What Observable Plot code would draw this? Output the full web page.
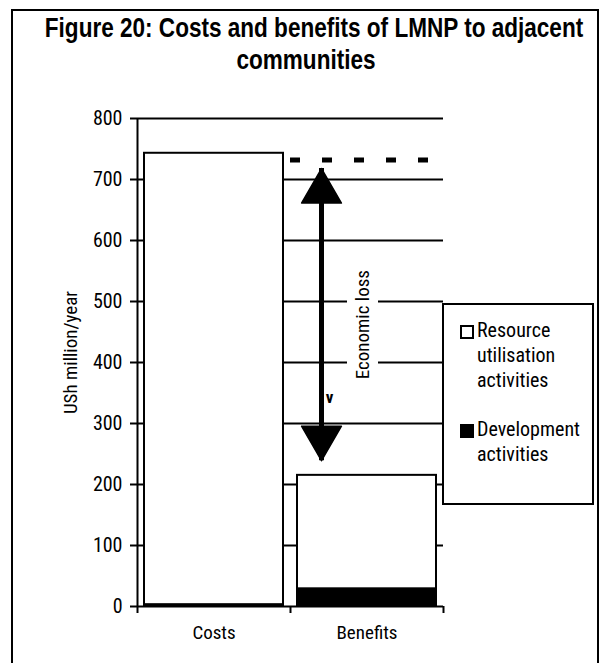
<!DOCTYPE html>
<html>
<head>
<meta charset="utf-8">
<script src="https://cdn.jsdelivr.net/npm/d3@7"></script>
<script src="https://cdn.jsdelivr.net/npm/@observablehq/plot@0.6"></script>
<style>
  html, body { margin: 0; padding: 0; background: #fff; }
  body { width: 611px; height: 663px; position: relative; overflow: hidden;
         font-family: "Roboto Condensed", Roboto, sans-serif; font-stretch: 75%; }
  #frame { position: absolute; left: 11px; top: 9px; width: 584px; height: 700px; border: 2px solid #000; }
  #title { position: absolute; left: 0; top: 12px; width: 611px; height: 70px; }
  #title div { position: absolute; width: 712px; text-align: center;
           font-family: "Liberation Sans", Arial, sans-serif; font-stretch: normal;
           font-weight: bold; font-size: 27.5px; line-height: 32px; color: #000;
           white-space: nowrap; transform: scaleX(0.82); transform-origin: center; }
  #chart { position: absolute; left: 0; top: 0; }
  #legend { position: absolute; left: 442px; top: 303px; width: 148px; height: 198px;
            border: 2px solid #000; background: #fff; font-size: 20px; line-height: 25px; color: #000; }
  .item { position: absolute; left: 16px; }
  .sw { position: absolute; left: 0; top: 7px; width: 10px; height: 10px; border: 2px solid #000; }
  .lab { margin-left: 17px; }
</style>
</head>
<body>
<div id="frame"></div>
<div id="title"><div style="left:-42px;top:0">Figure 20: Costs and benefits of LMNP to adjacent</div><div style="left:-50px;top:32px">communities</div></div>
<div id="chart"></div>
<div id="legend"></div>
<script>
// ---- data ----
const categories = ["Costs", "Benefits"];
const seriesNames = ["Resource utilisation activities", "Development activities"];
const seriesColors = ["#ffffff", "#000000"];
const resourceValues = [740, 186];
const developmentValues = [3, 29];
const yTicks = [0, 100, 200, 300, 400, 500, 600, 700, 800];
const yLabel = "USh million/year";
const referenceLine = [{category: "Benefits", value: 732}];
const lossArrow = [{category: "Benefits", from: 239, to: 718}];
const lossLabel = [{category: "Benefits", value: 462, text: "Economic loss"}];
const markLabel = [{category: "Benefits", value: 343, text: "v"}];
const lossBox = [{category: "Benefits", y1: 362, y2: 556}];

const rows = [];
categories.forEach((c, i) => {
  rows.push({category: c, series: seriesNames[1], value: developmentValues[i]});
  rows.push({category: c, series: seriesNames[0], value: resourceValues[i]});
});

const font = '"Roboto Condensed", Roboto, sans-serif';
const half = 76.5; // half band step in px

const chart = Plot.plot({
  width: 611,
  height: 663,
  marginTop: 118,
  marginBottom: 57,
  marginLeft: 137,
  marginRight: 168,
  style: {fontFamily: font, fontStretch: "75%", color: "#000", background: "transparent"},
  x: {domain: categories, padding: 0, label: null},
  y: {domain: [0, 800], label: null},
  color: {domain: seriesNames, range: seriesColors},
  marks: [
    Plot.ruleY(yTicks, {stroke: "#000", strokeWidth: 2}),
    Plot.barY(rows, {
      x: "category", y: "value", fill: "series",
      order: [seriesNames[1], seriesNames[0]],
      stroke: "#000", strokeWidth: 2, insetLeft: 7, insetRight: 7
    }),
    Plot.ruleY(referenceLine, {
      x1: "category", x2: "category", y: "value",
      stroke: "#000", strokeWidth: 5, strokeDasharray: "10 22", insetRight: 15
    }),
    Plot.barY(lossBox, {x: "category", y1: "y1", y2: "y2", fill: "#fff", insetLeft: 57, insetRight: 65}),
    Plot.ruleX(lossArrow, {x: "category", y1: "from", y2: "to", dx: -45.5, stroke: "#000", strokeWidth: 5}),
    Plot.dot(lossArrow, {x: "category", y: "to", symbol: "triangle", r: 14.8, fill: "#000",
      stroke: "#000", strokeWidth: 1.5, strokeLinejoin: "round", dx: -45.5, dy: 23}),
    Plot.dot(lossArrow, {x: "category", y: "from", symbol: "triangle", rotate: 180, r: 14.8, fill: "#000",
      stroke: "#000", strokeWidth: 1.5, strokeLinejoin: "round", dx: -45.5, dy: -23}),
    Plot.text(lossLabel, {x: "category", y: "value", text: "text", rotate: -90, dx: -4.5,
      fontSize: 19, fill: "#000"}),
    Plot.text(markLabel, {x: "category", y: "value", text: "text", dx: -37.5,
      fontSize: 17, fontWeight: "bold", fill: "#000"}),
    // y axis line and category boundary ticks
    Plot.ruleX(["Costs"], {x: d => d, y1: 0, y2: 800, dx: -half, stroke: "#000", strokeWidth: 2}),
    Plot.ruleX(categories, {x: d => d, y1: 0, y2: 0, dx: -half, insetBottom: -7, stroke: "#000", strokeWidth: 2}),
    Plot.ruleX(["Benefits"], {x: d => d, y1: 0, y2: 0, dx: half, insetBottom: -7, stroke: "#000", strokeWidth: 2}),
    Plot.axisY({ticks: yTicks, tickSize: 7, tickPadding: 8, strokeWidth: 2, fontSize: 20, label: null}),
    Plot.axisX({tickSize: 0, tickPadding: 19, fontSize: 19, label: null}),
    Plot.text([yLabel], {text: d => d, frameAnchor: "left", textAnchor: "middle", rotate: -90, dx: -67, dy: -10,
      fontSize: 19, fill: "#000"})
  ]
});
document.getElementById("chart").appendChild(chart);

// legend (HTML), built from series arrays
const legend = document.getElementById("legend");
const legendLines = [["Resource", "utilisation", "activities"], ["Development", "activities"]];
const legendTops = [13, 112];
seriesNames.forEach((s, i) => {
  const item = document.createElement("div");
  item.className = "item";
  item.style.top = legendTops[i] + "px";
  const sw = document.createElement("div");
  sw.className = "sw";
  sw.style.background = seriesColors[i];
  item.appendChild(sw);
  legendLines[i].forEach(t => {
    const l = document.createElement("div");
    l.className = "lab";
    l.textContent = t;
    item.appendChild(l);
  });
  legend.appendChild(item);
});
</script>
</body>
</html>
